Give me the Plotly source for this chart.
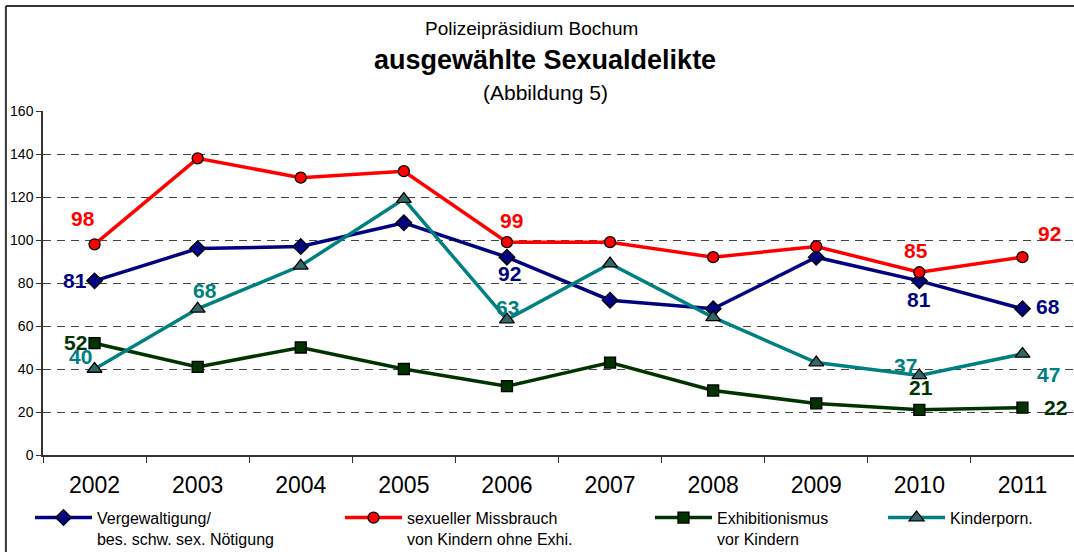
import plotly.graph_objects as go

# Daten
jahre = ['2002', '2003', '2004', '2005', '2006', '2007', '2008', '2009', '2010', '2011']
vergewaltigung = [81, 96, 97, 108, 92, 72, 68, 92, 81, 68]
missbrauch = [98, 138, 129, 132, 99, 99, 92, 97, 85, 92]
exhibitionismus = [52, 41, 50, 40, 32, 43, 30, 24, 21, 22]
kinderporn = [40, 68, 88, 119, 63, 89, 64, 43, 37, 47]

namen = [
    'Vergewaltigung/<br>bes. schw. sex. Nötigung',
    'sexueller Missbrauch<br>von Kindern ohne Exhi.',
    'Exhibitionismus<br>vor Kindern',
    'Kinderporn.',
]
y_ticks = [0, 20, 40, 60, 80, 100, 120, 140, 160]

FONT = 'Arial, Liberation Sans, sans-serif'

serien = [
    dict(y=vergewaltigung, linie='#000080', fill='#000080', symbol='diamond', size=12),
    dict(y=missbrauch, linie='#FF0000', fill='#FF0000', symbol='circle', size=11),
    dict(y=exhibitionismus, linie='#003300', fill='#003300', symbol='square', size=11),
    dict(y=kinderporn, linie='#008080', fill='#336666', symbol='triangle-up', size=13),
]

# Legendenposition (container x) und Beschriftungen: (Serie, Punkt, dx, dy) in Pixel
legend_x = [0.0279, 0.3166, 0.6052, 0.8222]
labels = [
    (0, 0, -20, 0), (0, 4, 3, 16), (0, 8, 0, 19), (0, 9, 26, -2),
    (1, 0, -12, -26), (1, 4, 5, -22), (1, 8, -3, -22), (1, 9, 27, -24),
    (2, 0, -19, -1), (2, 8, 2, -22), (2, 9, 33, 0),
    (3, 0, -14, -13), (3, 1, 7, -18), (3, 4, 1, -12), (3, 8, -14, -10), (3, 9, 26, 21),
]

fig = go.Figure()
for i, s in enumerate(serien):
    leg = 'legend' if i == 0 else 'legend%d' % (i + 1)
    fig.add_trace(go.Scatter(
        x=jahre,
        y=s['y'],
        name=namen[i],
        mode='lines+markers',
        line=dict(color=s['linie'], width=3.5),
        marker=dict(symbol=s['symbol'], size=s['size'], color=s['fill'],
                    line=dict(color='black', width=1.3)),
        legend=leg,
        cliponaxis=False,
    ))

annotations = []
for si, pi, dx, dy in labels:
    annotations.append(dict(
        x=pi, y=serien[si]['y'][pi], xref='x', yref='y',
        text='<b>%d</b>' % serien[si]['y'][pi], showarrow=False,
        xshift=dx, yshift=-dy,
        font=dict(family=FONT, size=21, color=serien[si]['linie'])
    ))

# Titel
annotations += [
    dict(x=0.474, y=1.241, xref='paper', yref='paper', text='Polizeipräsidium Bochum',
         showarrow=False, yanchor='middle', xanchor='center',
         font=dict(family=FONT, size=19, color='black')),
    dict(x=0.487, y=1.148, xref='paper', yref='paper', text='<b>ausgewählte Sexualdelikte</b>',
         showarrow=False, yanchor='middle', xanchor='center',
         font=dict(family=FONT, size=27, color='black')),
    dict(x=0.487, y=1.055, xref='paper', yref='paper', text='(Abbildung 5)',
         showarrow=False, yanchor='middle', xanchor='center',
         font=dict(family=FONT, size=21, color='black')),
]

legenden = {}
for i, lx in enumerate(legend_x):
    key = 'legend' if i == 0 else 'legend%d' % (i + 1)
    legenden[key] = dict(
        x=lx, y=0.093, xref='container', yref='container',
        xanchor='left', yanchor='top',
        orientation='h', valign='top', itemwidth=57,
        font=dict(family=FONT, size=16, color='black'),
        bgcolor='rgba(0,0,0,0)', itemclick=False, itemdoubleclick=False
    )

fig.update_layout(
    width=1074,
    height=552,
    margin=dict(l=43, r=0, t=111, b=97, autoexpand=False),
    paper_bgcolor='white',
    plot_bgcolor='white',
    font=dict(family=FONT, color='black'),
    showlegend=True,
    annotations=annotations,
    xaxis=dict(
        type='category',
        showgrid=False, automargin=False,
        showline=True, linecolor='#333333', linewidth=1.5,
        ticks='outside', tickson='boundaries', ticklen=6, tickcolor='#333333',
        tickfont=dict(family=FONT, size=23, color='black'),
        ticklabelstandoff=9,
        range=[-0.5, 9.5],
    ),
    yaxis=dict(
        range=[0, 160], automargin=False,
        tickvals=y_ticks,
        showgrid=True, gridcolor='#444444', gridwidth=1, griddash='8px,6px',
        zeroline=False,
        showline=True, linecolor='#333333', linewidth=1.5,
        ticks='outside', ticklen=5, tickcolor='#333333',
        tickfont=dict(family=FONT, size=14, color='black'),
    ),
    shapes=[
        dict(type='line', xref='paper', yref='paper', x0=-0.036, x1=-0.036, y0=-0.3, y1=1.305,
             line=dict(color='#333333', width=2)),
        dict(type='line', xref='paper', yref='paper', x0=-0.036, x1=1.0, y0=1.305, y1=1.305,
             line=dict(color='#333333', width=2)),
    ],
    **legenden
)

# Seitenrand entfernen, damit die Grafik bündig im Fenster sitzt
fig.write_html('out.html', config={'displayModeBar': False},
               post_script="document.body.style.margin='0';")
